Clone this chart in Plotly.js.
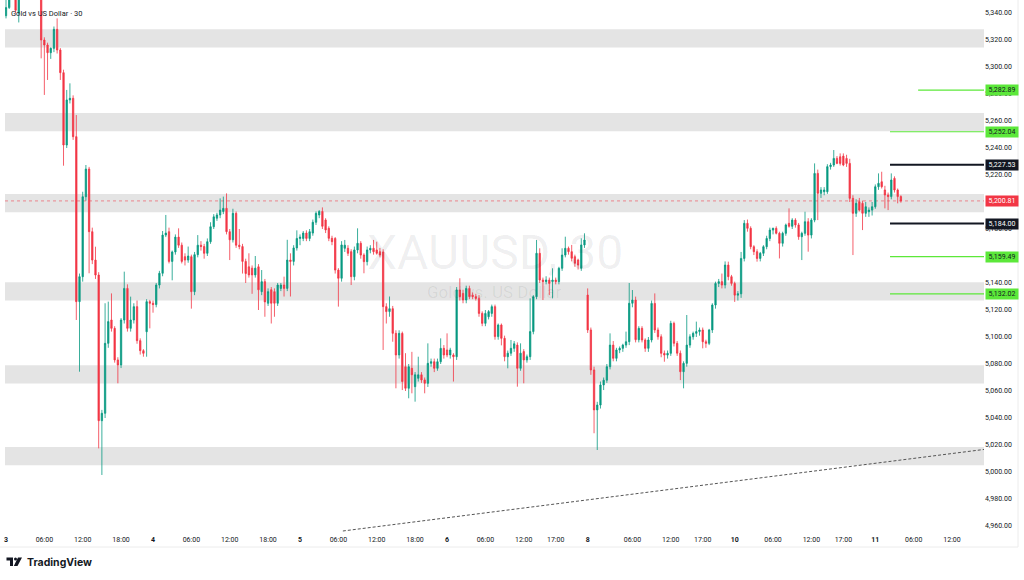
<!DOCTYPE html>
<html>
<head>
<meta charset="utf-8">
<script src="https://cdn.plot.ly/plotly-3.0.1.min.js"></script>
<style>
  html, body { margin: 0; padding: 0; background: #ffffff; }
  #chart { width: 1024px; height: 580px; }
</style>
</head>
<body>
<div id="chart"></div>
<script>
// ---------------- DATA (XAUUSD, 30 min bars) ----------------
const openP = [
  5338,5344,5358,5362,5340,5355,5364,5360,5356,5366,
  5358,5354,5320,5316.3,5310.6,5313.8,5327.9,5312.6,5295.8,5242.2,
  5275.6,5276.8,5248.4,5126.2,5144.7,5203.9,5224.4,5178,5157,5145.9,
  5038,5043.5,5095.3,5112.6,5106.4,5083,5079.3,5112.6,5136,5106.4,
  5112.6,5122.5,5097.3,5089.9,5103.9,5126.2,5125,5124,5138.5,5147.2,
  5175.5,5178,5156,5163,5174,5168,5159.5,5157,5159.5,5133.6,
  5161,5168,5167,5162,5170.6,5181.7,5188,5190.4,5193,5195.3,
  5178,5172,5191.6,5168,5167,5156,5152,5151,5146,5152,
  5133.6,5141,5125,5135,5133.6,5125,5136,5138.5,5136,5157,
  5156,5166,5173,5173,5177,5173,5177,5185,5190.4,5193,
  5186.7,5180.5,5173.1,5173,5149.6,5143.5,5165.7,5165.7,5163.2,5144.7,
  5164.5,5169.4,5160.7,5155.8,5164.5,5165.7,5164.5,5163.2,5163,5122.5,
  5118.8,5121,5102.7,5086.7,5102.7,5078,5062,5076.8,5063.2,5069.4,
  5072,5068.2,5065.7,5080.5,5081.7,5076.8,5081.7,5091.6,5090.4,5086.7,
  5086.7,5085.4,5134.8,5132.3,5127.4,5136,5131,5129.9,5128.6,5117.5,
  5110.1,5115,5117.5,5122.5,5100.3,5108.9,5099,5085.4,5088,5091.6,
  5094,5076.8,5089.2,5083,5085.4,5104,5129.9,5162,5142.2,5141,
  5142.2,5141,5142.2,5141,5150.9,5160.7,5165.7,5163.2,5159.5,5157,
  5150.9,5168.2,5131.1,5105.2,5075.6,5046,5049.6,5064.5,5068,5078,
  5094,5084.2,5090.4,5091.6,5094,5096.5,5125,5127.4,5098,5106.4,
  5097.8,5091.6,5097.8,5124.9,5105.2,5100.2,5087.9,5086.6,5087.9,5110.1,
  5095.3,5088,5074.3,5080.5,5094,5100.2,5102.7,5104,5105.2,5096.5,
  5095.3,5105.2,5123.7,5139.7,5141,5138.5,5153.3,5144.7,5139.7,5131,
  5132,5158.2,5184.2,5180.5,5166.9,5163.2,5158.2,5162,5166.9,5173,
  5179.2,5180.5,5176.8,5169.4,5176.8,5184.2,5182,5186.6,5183,5174.3,
  5176.8,5185.4,5175.5,5186.6,5221.2,5206.4,5207.6,5207.6,5226.2,5227.4,
  5232.3,5233.5,5234,5232.3,5228.6,5202.7,5191.6,5200.2,5199,5191.6,
  5192.8,5194,5196.5,5211.3,5215,5208.9,5205.2,5204,5217.5,5208.9,5204
];
const highP = [
  5352,5362,5366,5364,5358,5368,5372,5366,5368,5370,
  5362,5358,5322,5318,5314.5,5330,5336,5314,5298,5283,
  5287.9,5279,5264.4,5147,5207.6,5227.4,5226,5181,5166.9,5148,
  5046,5125,5126.2,5132.3,5108,5085,5114,5148.4,5139,5129.9,
  5125,5127,5099,5091,5128,5127.5,5127,5140,5149,5178.5,
  5190.4,5181,5164,5176,5180.5,5170,5162,5167,5161,5163,
  5175.5,5171,5169,5173,5185,5191,5192,5202.7,5204,5206.4,
  5180,5195,5193,5180,5169,5158,5162,5153,5160,5154,
  5149.6,5143,5136,5137,5136,5140,5140,5144.7,5172,5162,
  5168,5179,5176,5178.5,5179,5180,5187,5193,5194,5196,
  5188,5182,5175,5174,5151,5171,5171.9,5168,5165,5167,
  5180.5,5171,5162,5167,5168,5171.9,5170.6,5166,5165,5125,
  5130,5123,5105,5105,5104,5088,5080,5089,5074,5085.4,
  5074,5070,5095.3,5084,5084,5084,5099,5094,5102.7,5092,
  5088,5137,5143.5,5135,5138,5138,5133,5132,5131,5119,
  5120,5120,5124,5124,5110,5110,5101,5090,5097.8,5097,
  5096,5095.3,5091,5087,5128.6,5131,5171.9,5165.7,5144,5145,
  5144,5150.9,5144,5152,5165.7,5174.3,5167,5168.2,5161,5158,
  5173.1,5176.8,5136,5107,5078,5052,5067,5070,5080,5102.7,
  5097,5092,5093,5095,5104,5140,5134.8,5129.9,5108,5108,
  5099,5100,5127,5132.3,5107,5102,5090,5090,5112,5111.4,
  5097,5090,5082,5116.3,5102,5104,5111.4,5107,5107,5098,
  5106,5125,5141,5143,5147,5156,5155.8,5146,5141,5134,
  5163,5186.6,5187,5182,5168,5165,5163,5168,5175,5181,
  5181,5182,5178,5178,5184,5195.3,5188,5188,5184.5,5178,
  5192.8,5188,5188,5228.6,5224,5211,5211,5228,5229,5238.5,
  5234,5236,5236,5235,5232,5205,5202,5203,5201,5200,
  5196,5200,5213,5221.2,5222.4,5212,5207,5221.2,5219,5210,5205
];
const lowP = [
  5336,5343,5354,5340,5333,5352,5358,5353,5354,5356,
  5351,5306.4,5279.3,5290.4,5306,5311,5310,5290.4,5226.9,5240,
  5273,5246,5112.6,5074.3,5141,5201,5147.2,5154,5143,5017.5,
  4997.8,5040,5092,5104,5081,5065.7,5077,5110,5104,5104,
  5110,5095,5087,5085.4,5085.4,5106.4,5118,5122,5136,5145,
  5174,5154.5,5142,5161,5166,5154.5,5153,5155,5121,5131,
  5159,5164,5158,5160,5169,5180,5186,5188,5191,5176,
  5157,5170,5166,5165,5147,5140,5144,5132,5144,5120,
  5131,5115,5123,5110,5115,5123,5134,5130,5134,5130,
  5153,5164,5168,5171,5171,5171,5175,5183,5188,5180,
  5177,5171,5168,5147,5122.5,5141,5163,5160,5138.5,5142,
  5162,5158,5147.2,5153,5162,5161,5161,5159,5090.4,5110,
  5115,5096.5,5062,5084,5060.7,5060,5054.6,5058.3,5052.1,5067,
  5066,5058.3,5063,5078,5074,5075,5080,5084,5085,5084,
  5067,5083,5127,5125,5125,5128,5128,5127,5115,5108,
  5108,5113,5115,5098,5098,5093.8,5082,5076.8,5086,5089,
  5063.2,5075,5065.7,5081,5083,5102,5128,5140,5127.4,5139,
  5131,5128.6,5139,5139,5149,5159,5161,5156,5152,5150,
  5149,5166,5103,5072,5028.7,5016.3,5047,5060.7,5066,5076,
  5082,5082,5088,5089,5092,5094,5122,5096,5096,5096,
  5089,5089,5096,5103,5098,5085,5081.7,5084,5086,5093,
  5086,5068.1,5062,5078,5092,5098,5100,5101,5091.6,5092,
  5094,5103,5121,5137,5136,5136,5142,5138,5126,5127,
  5129,5156,5178,5165,5160.7,5155.8,5156,5160,5165,5171,
  5176,5176,5158.2,5167,5175,5181,5180,5181,5172,5157,
  5175,5163.2,5173,5185,5186.6,5203,5205,5206,5224,5226,
  5228,5227,5226.5,5226,5200,5160.7,5189,5193,5179.2,5189,
  5189,5190,5195,5209,5210,5195.3,5194,5202,5207,5199,5199.5
];
const closeP = [
  5344,5358,5362,5342,5355,5364,5360,5356,5366,5358,
  5354,5320,5316.3,5310.6,5313.8,5327.9,5312.6,5295.8,5242.2,5275.6,
  5276.8,5248.4,5126.2,5144.7,5203.9,5224.4,5178,5157,5145.9,5038,
  5043.5,5095.3,5111.4,5106.4,5083,5079.3,5112.6,5136,5106.4,5112.6,
  5122.5,5097.3,5089.9,5087.9,5126.2,5125,5124,5138.5,5147.2,5175.5,
  5177,5156,5163,5174,5168,5156,5157,5160,5133.6,5161,
  5168,5167,5162,5170.6,5181.7,5189,5190.4,5194,5195.3,5178,
  5172,5191.6,5168,5167,5156,5147,5146,5146,5151,5135,
  5141,5126,5133.6,5125,5125,5138.5,5138.5,5136,5157,5156,
  5166,5173,5174,5177,5173,5178,5185,5191.6,5193,5182,
  5179.3,5173.1,5170.6,5149.6,5143.5,5168.2,5168,5162,5144.7,5164.5,
  5169.4,5160.7,5155.8,5164.5,5165.7,5163.2,5162,5160.7,5122.5,5118.8,
  5121,5102.7,5086.7,5102.7,5067,5062,5078,5072,5072,5072,
  5068.2,5065.7,5080.5,5081.7,5076.8,5081.7,5091.6,5086.7,5086.7,5090.4,
  5085.4,5134.8,5129.9,5127.4,5136,5129.9,5129.9,5128.6,5117.5,5110.1,
  5117.5,5118.8,5122.5,5100.3,5108.9,5099,5085.4,5088,5091.6,5095,
  5076.8,5088,5083,5085.4,5104,5129.9,5162,5142.2,5141,5142.2,
  5139.7,5142.2,5141,5150.9,5160.7,5165.7,5163.2,5158.3,5154.6,5153.3,
  5168.2,5171.9,5105.2,5075.6,5046,5049.6,5064.5,5068,5078,5094,
  5084.2,5090.4,5091.6,5094,5096.5,5125,5127.4,5098,5106.4,5097.8,
  5091.6,5097.8,5124.9,5105.2,5100.2,5087.9,5086.6,5087.9,5110.1,5095.3,
  5088,5074.3,5080.5,5094,5100.2,5102.7,5104,5105.2,5096.5,5095.3,
  5105.2,5123.7,5139.7,5141,5138.5,5153.3,5144.7,5139.7,5131,5132,
  5158.2,5184.2,5180.5,5166.9,5163.2,5158.2,5162,5166.9,5173,5179.2,
  5180.5,5176.8,5169.4,5176.8,5183,5182,5186.6,5183,5174.3,5176.8,
  5185.4,5175.5,5186.6,5221.2,5206.4,5208.9,5208.9,5226.2,5227.4,5232.3,
  5228.6,5228.6,5227.4,5228.6,5202.7,5191.6,5199,5194,5191.6,5196.5,
  5194,5196.5,5211.3,5213.8,5211.3,5205.2,5204,5216.3,5208.9,5204,5200.81
];

// time-axis labels (bar index of each label, label text)
const timeTickIdx  = [0,12,24,36,46,58,70,82,92,104,116,128,138,150,162,172,182,196,208,218,228,240,252,262,272,284,296];
const timeTickText = ['3','06:00','12:00','18:00','4','06:00','12:00','18:00','5','06:00','12:00','18:00','6','06:00','12:00','17:00','8','06:00','12:00','17:00','10','06:00','12:00','17:00','11','06:00','12:00'];
const dayLabels = ['3','4','5','6','8','10','11'];

// price-axis labels that are visible (5,160 and 5,200 sit under the level boxes)
const priceTicks = [4960,4980,5000,5020,5040,5060,5080,5100,5120,5140,5180,5220,5240,5260,5280,5300,5320,5340];

// grey supply/demand zones [low, high]
const zoneLow  = [5314.5, 5252.5, 5192.5, 5127.0, 5065.5, 5005.0];
const zoneHigh = [5328.0, 5266.0, 5206.0, 5140.5, 5079.0, 5018.5];

// horizontal levels on the right (value, colour kind, start bar)
const levelValue = [5282.89, 5252.04, 5227.53, 5184.00, 5159.49, 5132.02];
const levelKind  = ['green','green','black','black','green','green'];
const levelStart = [285.4, 276.6, 276.6, 276.6, 276.6, 276.6];

const lastPrice = 5200.81;

// dashed trend line (bar index, price)
const trendX = [105.4, 306.0];
const trendY = [4956.3, 5016.7];

// ---------------- STYLE / LAYOUT ----------------
const UP = '#089981', DOWN = '#f23645', LIME = '#5ce83a', INK = '#131722';
const W = 1024, H = 580, ML = 5, MR = 40, MT = 0, MB = 48;
const PW = W - ML - MR, PH = H - MT - MB;
const px = v => (v - ML) / PW;            // pixel x -> paper
const py = v => (MT + PH - v) / PH;       // pixel y -> paper

const xIdx = openP.map((_, i) => i);
const XMIN = -0.313, XMAX = XMIN + PW / 3.196;
const YMIN = 4955.56, YMAX = 5349.63;

const fmt = v => v.toLocaleString('en-US', {minimumFractionDigits: 2, maximumFractionDigits: 2});

const trace = {
  type: 'candlestick',
  x: xIdx, open: openP, high: highP, low: lowP, close: closeP,
  increasing: {line: {color: UP, width: 0.8}, fillcolor: UP},
  decreasing: {line: {color: DOWN, width: 0.8}, fillcolor: DOWN},
  whiskerwidth: 0,
  hoverinfo: 'skip',
  showlegend: false
};

const shapes = [];
zoneLow.forEach((lo, k) => shapes.push({
  type: 'rect', xref: 'paper', x0: 0, x1: 1, yref: 'y', y0: lo, y1: zoneHigh[k],
  fillcolor: '#e4e4e4', line: {width: 0}, layer: 'below'
}));
shapes.push({type: 'line', xref: 'paper', x0: 0, x1: 1, yref: 'y', y0: lastPrice, y1: lastPrice,
  line: {color: 'rgba(242,54,69,0.55)', width: 1, dash: 'dot'}, layer: 'below'});
levelValue.forEach((v, k) => shapes.push({
  type: 'line', xref: 'x', x0: levelStart[k], x1: XMAX, yref: 'y', y0: v, y1: v,
  line: {color: levelKind[k] === 'green' ? LIME : INK, width: levelKind[k] === 'green' ? 1.2 : 2}
}));
shapes.push({type: 'line', xref: 'x', yref: 'y', x0: trendX[0], y0: trendY[0], x1: trendX[1], y1: trendY[1],
  line: {color: '#555555', width: 1, dash: '3px,2px'}});
// chart frame lines (time scale bottom / price scale right)
shapes.push({type: 'line', xref: 'paper', yref: 'paper', x0: px(0), x1: px(1018), y0: py(547), y1: py(547), line: {color: '#ececec', width: 1}});
shapes.push({type: 'line', xref: 'paper', yref: 'paper', x0: px(1018), x1: px(1018), y0: py(0), y1: py(547), line: {color: '#ececec', width: 1}});
// TradingView logo
const P = (pts) => 'M ' + pts.map(p => px(p[0]) + ' ' + py(p[1])).join(' L ') + ' Z';
shapes.push({type: 'path', xref: 'paper', yref: 'paper', path: P([[6.5,557.5],[13,557.5],[13,566],[10,566],[10,560.5],[6.5,560.5]]), fillcolor: INK, line: {width: 0}});
shapes.push({type: 'circle', xref: 'paper', yref: 'paper', x0: px(14), x1: px(17), y0: py(557.5), y1: py(560.5), fillcolor: INK, line: {width: 0}});
shapes.push({type: 'path', xref: 'paper', yref: 'paper', path: P([[18,557.5],[22,557.5],[17.5,566],[13.8,566]]), fillcolor: INK, line: {width: 0}});

const annotations = [];
// watermark
annotations.push({xref: 'paper', yref: 'paper', x: px(495), y: py(252), text: 'XAUUSD, 30', showarrow: false,
  font: {family: 'Roboto, sans-serif', size: 48, color: 'rgba(19,23,34,0.07)'}, xanchor: 'center', yanchor: 'middle'});
annotations.push({xref: 'paper', yref: 'paper', x: px(494), y: py(292), text: 'Gold vs. US Dollar', showarrow: false,
  font: {family: 'Roboto, sans-serif', size: 17, color: 'rgba(19,23,34,0.07)'}, xanchor: 'center', yanchor: 'middle'});
// legend top-left
annotations.push({xref: 'paper', yref: 'paper', x: px(9), y: py(13), text: 'Gold vs US Dollar · 30', showarrow: false,
  font: {family: 'Roboto, sans-serif', size: 7.5, color: INK}, xanchor: 'left', yanchor: 'middle'});
// TradingView wordmark
annotations.push({xref: 'paper', yref: 'paper', x: px(24.5), y: py(562.5), text: '<b>TradingView</b>', showarrow: false,
  font: {family: 'Inter, Roboto, sans-serif', size: 10.5, color: INK}, xanchor: 'left', yanchor: 'middle'});
// price boxes on the scale
const boxes = levelValue.map((v, k) => ({v: v, bg: levelKind[k] === 'green' ? LIME : INK, fg: levelKind[k] === 'green' ? INK : '#ffffff'}));
boxes.push({v: lastPrice, bg: DOWN, fg: '#ffffff'});
boxes.forEach(b => annotations.push({
  xref: 'paper', yref: 'y', x: px(985), y: b.v, xanchor: 'left', yanchor: 'middle',
  text: fmt(b.v), showarrow: false, bgcolor: b.bg, borderpad: 1, width: 30, height: 8,
  font: {family: 'Roboto, sans-serif', size: 7, color: b.fg}
}));

const layout = {
  width: W, height: H,
  margin: {l: ML, r: MR, t: MT, b: MB, pad: 0},
  paper_bgcolor: '#ffffff', plot_bgcolor: '#ffffff',
  font: {family: 'Roboto, "Open Sans", sans-serif', color: INK},
  showlegend: false,
  boxgap: 0.4,
  xaxis: {
    type: 'linear', range: [XMIN, XMAX], fixedrange: true,
    rangeslider: {visible: false},
    tickmode: 'array', tickvals: timeTickIdx,
    ticktext: timeTickText.map(t => dayLabels.includes(t) ? '<b>' + t + '</b>' : t),
    tickfont: {size: 7, color: INK},
    ticklabelstandoff: 2,
    showgrid: false, zeroline: false, showline: false, ticks: ''
  },
  yaxis: {
    side: 'right', range: [YMIN, YMAX], fixedrange: true,
    tickmode: 'array', tickvals: priceTicks, tickformat: ',.2f',
    tickfont: {size: 7, color: INK},
    showgrid: false, zeroline: false, showline: false, ticks: ''
  },
  shapes: shapes,
  annotations: annotations
};

Plotly.newPlot('chart', [trace], layout, {staticPlot: true, displayModeBar: false});
</script>
</body>
</html>
